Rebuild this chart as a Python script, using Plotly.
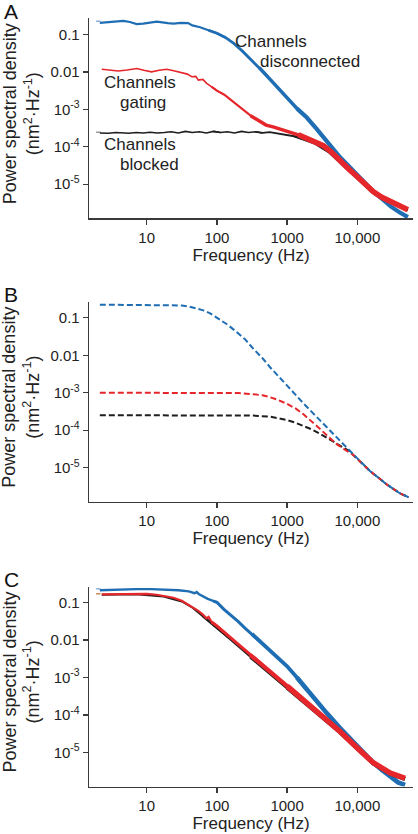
import plotly.graph_objects as go

# ---------------- data ----------------
# Panel A: measured spectra
a_blue_f = [2.15, 3.16, 4.65, 5.75, 7.21, 8.91, 11.2, 13.9, 20, 24, 30.9, 38.9, 44.7, 57.5, 75.9, 100, 132, 174, 229, 295,
            398, 525, 708, 1000, 1380, 1905, 2630, 3664, 4571, 5675, 7586, 10000, 13183, 17378, 23442, 30200, 39811, 52481]
a_blue_s = [0.204, 0.219, 0.229, 0.214, 0.188, 0.195, 0.209, 0.219, 0.200, 0.195, 0.204, 0.200, 0.174, 0.155, 0.129, 0.107,
            0.0832, 0.0575, 0.0363, 0.0229, 0.0132, 0.00759, 0.00398, 0.00195, 0.00105, 0.000603, 0.000302, 0.000138,
            8.71e-5, 5.25e-5, 3.02e-5, 1.74e-5, 1.0e-5, 6.03e-6, 3.80e-6, 2.51e-6, 1.78e-6, 1.32e-6]

a_red_f = [2.29, 3.02, 3.94, 5.25, 7.21, 9.12, 11.7, 15.1, 19.3, 25.1, 31.6, 38, 43.7, 50.1, 54.3, 63.1, 70.8, 84.3, 100, 130,
           170, 225, 302, 411, 501, 631, 832, 1096, 1445, 1905, 2512, 3281, 4266, 5675, 7586, 10000, 13183, 16982, 22387,
           29512, 38019, 47863, 52481]
a_red_s = [0.0117, 0.0112, 0.0105, 0.0112, 0.0123, 0.0110, 0.0100, 0.0110, 0.0117, 0.0105, 0.00955, 0.00871, 0.00741,
           0.00759, 0.00603, 0.00631, 0.00501, 0.00398, 0.00316, 0.00240, 0.00158, 0.00105, 0.000676, 0.000468, 0.000380,
           0.000339, 0.000288, 0.000251, 0.000209, 0.000166, 0.000135, 0.000107, 7.24e-5, 4.17e-5, 2.51e-5, 1.58e-5,
           9.77e-6, 6.31e-6, 4.47e-6, 3.39e-6, 2.69e-6, 2.24e-6, 2.09e-6]

a_black_f = [2.15, 2.9, 3.6, 4.5, 5.6, 7.1, 8.9, 11.2, 14.1, 17.8, 22.4, 28.2, 35.5, 44.7, 56.2, 70.8, 89.1, 112, 141, 178,
             224, 282, 355, 447, 562, 708, 891, 1000, 1259, 1585, 2512, 3981, 6310, 10000, 15849, 25119, 39811, 52481]
a_black_s = [2.34e-4, 2.29e-4, 2.40e-4, 2.34e-4, 2.29e-4, 2.40e-4, 2.34e-4, 2.45e-4, 2.34e-4, 2.40e-4,
             2.51e-4, 2.34e-4, 2.57e-4, 2.40e-4, 2.51e-4, 2.34e-4, 2.57e-4, 2.40e-4, 2.51e-4, 2.34e-4,
             2.57e-4, 2.40e-4, 2.51e-4, 2.34e-4, 2.45e-4, 2.29e-4, 2.19e-4, 2.04e-4, 1.91e-4, 1.66e-4,
             1.20e-4, 6.92e-5, 3.16e-5, 1.45e-5, 6.31e-6, 3.63e-6, 2.51e-6, 2.0e-6]

a_mark_f = [1.9, 2.2]
a_mark_blue = [0.224, 0.224]
a_mark_black = [2.45e-4, 2.45e-4]

# Panel B: model spectra
b_blue_f = [2.15, 10, 20, 31.6, 39.8, 50, 64, 80, 110, 141, 191, 251, 331, 447, 571, 759, 1000, 1698, 2951, 5129, 8710,
            15136, 26303, 40738, 53703]
b_blue_s = [0.224, 0.224, 0.221, 0.214, 0.200, 0.182, 0.158, 0.132, 0.0891, 0.0661, 0.0417, 0.0269, 0.0148, 0.00832,
            0.00479, 0.00275, 0.00155, 0.000525, 0.000178, 6.31e-5, 2.29e-5, 8.13e-6, 3.55e-6, 2.04e-6, 1.62e-6]

b_red_f = [2.15, 10, 100, 200, 331, 447, 571, 759, 1000, 1318, 1698, 2239, 2951, 3890, 5129, 8710, 15136, 26303, 40738, 53703]
b_red_s = [1.0e-3, 1.0e-3, 1.0e-3, 9.77e-4, 9.12e-4, 8.51e-4, 7.59e-4, 6.31e-4, 5.01e-4, 3.80e-4, 2.69e-4, 1.74e-4,
           1.07e-4, 6.61e-5, 4.17e-5, 2.19e-5, 8.13e-6, 3.55e-6, 2.04e-6, 1.62e-6]

b_black_f = [2.15, 10, 100, 331, 571, 759, 1000, 1318, 1698, 2239, 2951, 3890, 4467, 5129, 7586, 15136, 26303, 40738, 53703]
b_black_s = [2.51e-4, 2.51e-4, 2.51e-4, 2.45e-4, 2.29e-4, 2.09e-4, 1.86e-4, 1.58e-4, 1.32e-4, 1.05e-4, 7.94e-5, 5.89e-5,
             5.01e-5, 4.17e-5, 2.82e-5, 8.13e-6, 3.55e-6, 2.04e-6, 1.62e-6]

# Panel C: measured spectra
c_blue_f = [2.15, 3.98, 7.08, 11.7, 20, 28.2, 39.8, 48, 51.5, 55, 74.1, 89, 100, 126, 158, 200, 251, 316, 407, 631, 1000,
            1380, 1905, 2630, 3664, 5675, 7586, 10000, 13183, 16982, 22387, 29512, 38019, 47863]
c_blue_s = [0.214, 0.224, 0.229, 0.229, 0.224, 0.214, 0.200, 0.178, 0.191, 0.170, 0.126, 0.110, 0.102, 0.0661, 0.0468,
            0.0316, 0.0209, 0.0145, 0.00933, 0.00447, 0.00200, 0.001, 0.000479, 0.000229, 0.000112, 4.47e-5, 2.51e-5,
            1.45e-5, 8.71e-6, 5.25e-6, 3.39e-6, 2.19e-6, 1.58e-6, 1.35e-6]

c_red_f = [2.29, 3.98, 7.08, 10, 13.8, 17.4, 24, 31.6, 35.2, 43.7, 54.3, 63.1, 70.8, 75.9, 84.3, 100, 146, 214, 300, 411,
           631, 1000, 1905, 3664, 5675, 10000, 16982, 29512, 47863]
c_red_s = [0.166, 0.170, 0.174, 0.170, 0.162, 0.151, 0.135, 0.112, 0.1, 0.0794, 0.0603, 0.0479, 0.0380, 0.0417, 0.0302,
           0.0240, 0.0129, 0.00692, 0.00398, 0.00245, 0.00117, 0.000589, 0.000209, 7.59e-5, 3.63e-5, 1.32e-5, 5.25e-6,
           2.82e-6, 2.04e-6]

c_black_f = [2.29, 7.08, 17.4, 31.6, 43.7, 63.1, 100, 146, 214, 300, 411, 631, 1000, 1905, 3664, 5675, 10000, 16982,
             29512, 47863]
c_black_s = [0.162, 0.166, 0.145, 0.107, 0.0759, 0.0437, 0.0219, 0.0117, 0.00631, 0.00355, 0.00219, 0.00107, 0.000537,
             0.000195, 7.24e-5, 3.47e-5, 1.26e-5, 5.01e-6, 2.69e-6, 1.95e-6]

c_mark_f = [1.9, 2.2]
c_mark_blue = [0.235, 0.235]
c_mark_red = [0.172, 0.172]

x_tickvals = [10, 100, 1000, 10000]
x_ticktext = ["10", "100", "1000", "10,000"]
y_tickvals = [1e-5, 1e-4, 1e-3, 0.01, 0.1]
y_ticktext = ["10<sup>-5</sup>", "10<sup>-4</sup>", "10<sup>-3</sup>", "0.01", "0.1"]

# ---------------- styling ----------------
BLUE = "#1f6eb4"
RED = "#e5262b"
BLACK = "#1e1e1e"
FONT = "Liberation Sans, Arial, Helvetica, sans-serif"
W, H = 418, 834

fig = go.Figure()


def banded(f, s, widths, color, xa, ya, edges=(100, 400, 1500)):
    """draw one series as a few traces whose width grows with frequency"""
    bounds = [0] + list(edges) + [1e9]
    for k, w in enumerate(widths):
        lo, hi = bounds[k], bounds[k + 1]
        g = [i for i, v in enumerate(f) if lo <= v <= hi]
        if not g:
            continue
        a, b = g[0], g[-1]
        if a > 0:
            a -= 1
        if b < len(f) - 1:
            b += 1
        fig.add_trace(go.Scatter(x=f[a:b + 1], y=s[a:b + 1], mode="lines", xaxis=xa, yaxis=ya,
                                 line=dict(color=color, width=w), showlegend=False, hoverinfo="skip"))


def line(f, s, color, xa, ya, width=2, dash=None):
    fig.add_trace(go.Scatter(x=f, y=s, mode="lines", xaxis=xa, yaxis=ya,
                             line=dict(color=color, width=width, dash=dash), showlegend=False, hoverinfo="skip"))


# Panel A
line(a_mark_f, a_mark_blue, "#8db0d6", "x", "y", 1.5)
line(a_mark_f, a_mark_black, "#999999", "x", "y", 1.5)
banded(a_black_f, a_black_s, (1.6, 1.6, 1.8, 2.0), BLACK, "x", "y")
banded(a_blue_f, a_blue_s, (2.2, 2.8, 3.5, 4.2), BLUE, "x", "y")
banded(a_red_f, a_red_s, (1.6, 2.2, 3.4, 5.5), RED, "x", "y")

# Panel B
line(b_black_f, b_black_s, BLACK, "x2", "y2", 2, "6px,3px")
line(b_red_f, b_red_s, RED, "x2", "y2", 2, "6px,3px")
line(b_blue_f, b_blue_s, BLUE, "x2", "y2", 2, "6px,3px")

# Panel C
line(c_mark_f, c_mark_blue, "#8db0d6", "x3", "y3", 1.5)
line(c_mark_f, c_mark_red, "#c98a55", "x3", "y3", 1.5)
banded(c_blue_f, c_blue_s, (2.4, 3.0, 3.8, 4.6), BLUE, "x3", "y3")
banded(c_black_f, c_black_s, (2.0, 2.4, 3.4, 4.0), BLACK, "x3", "y3")
banded(c_red_f, c_red_s, (2.2, 3.0, 4.2, 5.5), RED, "x3", "y3")

# ---------------- axes ----------------
x0, x1 = 89 / W, 413 / W
panels = [(18.3, 218.3), (301.7, 501.7), (586.5, 786.5)]


def xax(anchor):
    return dict(type="log", range=[0.178, 4.793], domain=[x0, x1], anchor=anchor, automargin=False,
                showline=True, linecolor="#3a3a3a", linewidth=1.3, mirror=False,
                ticks="outside", ticklen=5, tickwidth=1.3, tickcolor="#3a3a3a",
                tickvals=x_tickvals, ticktext=x_ticktext, showgrid=False, zeroline=False,
                tickfont=dict(size=15, color="#222", family=FONT),
                title=dict(text="Frequency (Hz)", font=dict(size=17, color="#222", family=FONT), standoff=4))


def yax(anchor, top, bot):
    return dict(type="log", range=[-5.91, -0.57], domain=[1 - bot / H, 1 - top / H], anchor=anchor, automargin=False,
                showline=True, linecolor="#3a3a3a", linewidth=1.3,
                ticks="outside", ticklen=5, tickwidth=1.3, tickcolor="#3a3a3a",
                tickvals=y_tickvals, ticktext=y_ticktext, showgrid=False, zeroline=False,
                tickfont=dict(size=15, color="#222", family=FONT))


layout = dict(width=W, height=H, autosize=False, margin=dict(l=0, r=0, t=0, b=0, autoexpand=False),
              paper_bgcolor="white", plot_bgcolor="white", font=dict(family=FONT, color="#222"))
for i, (top, bot) in enumerate(panels):
    sx = "" if i == 0 else str(i + 1)
    layout["xaxis" + sx] = xax("y" + sx)
    layout["yaxis" + sx] = yax("x" + sx, top, bot)

ann = []
for (top, bot), lab in zip(panels, ["A", "B", "C"]):
    ann.append(dict(text="Power spectral density<br>(nm<sup>2</sup>·Hz<sup>-1</sup>)", textangle=-90,
                    x=21 / W, y=1 - (top + bot - 8) / 2 / H, xref="paper", yref="paper",
                    xanchor="center", yanchor="middle", showarrow=False,
                    font=dict(size=18, family=FONT, color="#222")))
    ann.append(dict(text=lab, x=2 / W, y=1 - (top - 7) / H, xref="paper", yref="paper",
                    xanchor="left", yanchor="middle", showarrow=False,
                    font=dict(size=21, family=FONT, color="#111")))

curve_labels = [("Channels", 233, 41), ("disconnected", 258, 62),
                ("Channels", 102, 82), ("gating", 118, 102),
                ("Channels", 102, 144), ("blocked", 118, 164)]
for t, px, py in curve_labels:
    ann.append(dict(text=t, x=px / W, y=1 - py / H, xref="paper", yref="paper",
                    xanchor="left", yanchor="middle", showarrow=False,
                    font=dict(size=17, family=FONT, color="#222")))
layout["annotations"] = ann

fig.update_layout(**layout)
fig.write_html("out.html", config={"displayModeBar": False, "staticPlot": True},
               post_script="document.body.style.margin='0';document.body.style.padding='0';"
                           "document.body.style.overflow='hidden';")
